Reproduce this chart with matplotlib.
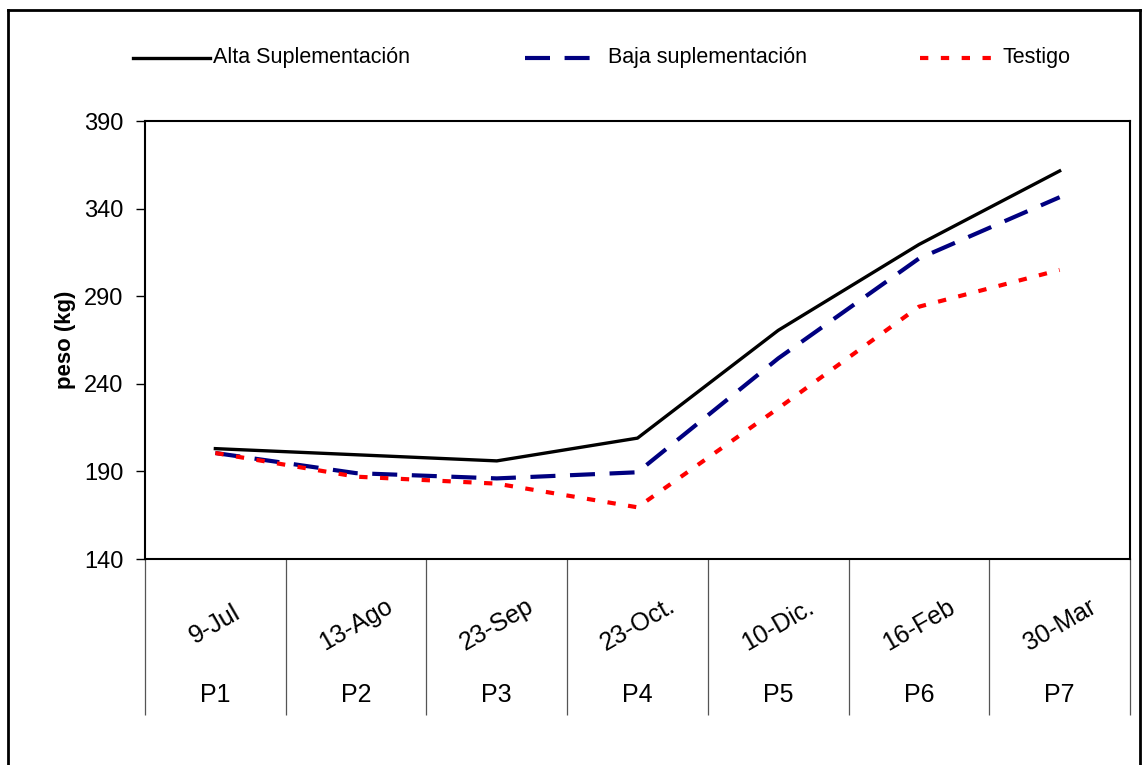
import matplotlib
matplotlib.use("Agg")
import matplotlib.pyplot as plt
from matplotlib.lines import Line2D
import numpy as np

plt.rcParams['font.family'] = ['Liberation Sans', 'DejaVu Sans']

fechas = ["9-Jul", "13-Ago", "23-Sep", "23-Oct.", "10-Dic.", "16-Feb", "30-Mar"]
periodos = ["P1", "P2", "P3", "P4", "P5", "P6", "P7"]
alta = [203, 199.5, 196, 209, 270.5, 319.5, 361.5]
baja = [200.5, 189, 186, 189.5, 254.5, 311.5, 346.5]
testigo = [200.5, 187, 183, 169.5, 226, 284, 305]
series = ["Alta Suplementación", "Baja suplementación", "Testigo"]

W, H = 1147, 765
fig = plt.figure(figsize=(W / 100, H / 100), dpi=100)
ax = fig.add_axes([145 / W, 1 - 559 / H, (1130 - 145) / W, (559 - 121) / H])

estilos = [
    dict(color='black', lw=2.4),
    dict(color='#000080', lw=3.0, dashes=(6, 3.5)),
    dict(color='#ff0000', lw=3.0, dashes=(2, 3)),
]

x = np.arange(len(periodos)) + 0.5
for y, st in zip([alta, baja, testigo], estilos):
    ax.plot(x, y, **st)

ax.set_xlim(0, len(periodos))
ax.set_ylim(140, 390)
ax.set_yticks(np.arange(140, 391, 50))
ax.tick_params(axis='y', labelsize=17, length=6.5, width=1, direction='out', pad=9)
# category boxes hang below the axis as long x ticks
ax.set_xticks(np.arange(len(periodos) + 1))
ax.set_xticklabels([])
ax.tick_params(axis='x', length=112, width=0.9, color='#555555', direction='out')
for s in ax.spines.values():
    s.set_linewidth(1.5)

for i, (f, p) in enumerate(zip(fechas, periodos)):
    ax.text(i + 0.5, -0.15, f, transform=ax.get_xaxis_transform(), rotation=30,
            ha='center', va='center', fontsize=18, rotation_mode='anchor')
    ax.text(i + 0.5, -0.31, p, transform=ax.get_xaxis_transform(),
            ha='center', va='center', fontsize=18)

ax.set_ylabel("peso (kg)", fontsize=16, fontweight='bold', labelpad=6)

# legend row: handle start, handle end, text start (pixels)
leg_x = [(133, 210, 213), (525, 600, 608), (920, 995, 1003)]
leg_y = 1 - 58 / H
for (x0, x1, xt), st, nombre in zip(leg_x, estilos, series):
    fig.add_artist(Line2D([x0 / W, x1 / W], [leg_y, leg_y], **st))
    fig.text(xt / W, leg_y, nombre, ha='left', va='center', fontsize=15.5)

# outer frame around the whole chart
for xs, ys in [((8, 8), (10, H)), ((8, 1140), (10, 10)), ((1140, 1140), (10, H))]:
    fig.add_artist(Line2D([v / W for v in xs], [1 - v / H for v in ys],
                          color='black', lw=2))

fig.savefig("out.png", dpi=100)
